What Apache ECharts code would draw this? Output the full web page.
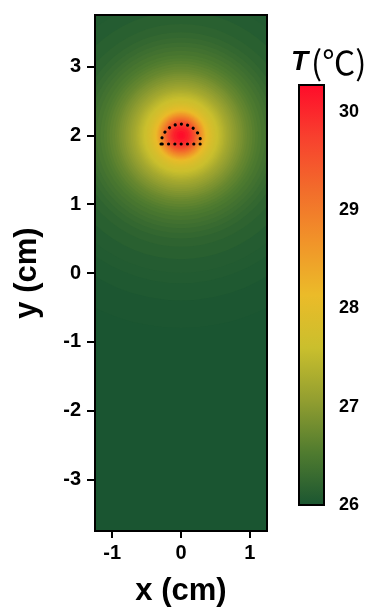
<!DOCTYPE html>
<html>
<head>
<meta charset="utf-8">
<script src="https://cdn.jsdelivr.net/npm/echarts@6/dist/echarts.min.js"></script>
<style>
  html, body { margin: 0; padding: 0; background: #fff; }
  #chart { width: 373px; height: 612px; }
</style>
</head>
<body>
<div id="chart"></div>
<script>
// Isotherms of the temperature field: level (°C) and radius (cm) around the warm spot
const isoLevels = [26.02, 26.05, 26.08, 26.1, 26.15, 26.2, 26.25, 26.3, 26.35, 26.4, 26.45,
  26.5, 26.55, 26.6, 26.65, 26.7, 26.75, 26.8, 26.85, 26.9, 26.95,
  27.0, 27.05, 27.1, 27.15, 27.2, 27.25, 27.3, 27.35, 27.4, 27.45,
  27.5, 27.55, 27.6, 27.65, 27.7, 27.75, 27.8, 27.85, 27.9, 27.95,
  28.0, 28.1, 28.2, 28.3, 28.4, 28.5, 28.6, 28.7, 28.8, 28.9,
  29.0, 29.1, 29.2, 29.3, 29.4, 29.5, 29.6, 29.7, 29.8, 29.9,
  30.0, 30.1, 30.2, 30.25];
const isoRadii = [2.8, 2.4, 2.15, 2.0, 1.8, 1.62, 1.5, 1.42, 1.35, 1.29, 1.23,
  1.17, 1.12, 1.08, 1.04, 1.0, 0.96, 0.93, 0.9, 0.87, 0.84,
  0.81, 0.78, 0.755, 0.73, 0.705, 0.68, 0.66, 0.64, 0.62, 0.60,
  0.58, 0.56, 0.54, 0.52, 0.50, 0.48, 0.46, 0.445, 0.43, 0.415,
  0.40, 0.38, 0.365, 0.35, 0.338, 0.325, 0.313, 0.30, 0.288, 0.276,
  0.264, 0.252, 0.24, 0.228, 0.216, 0.203, 0.19, 0.175, 0.16, 0.143,
  0.125, 0.1, 0.065, 0.035];
const spotCenter = [0, 2.0];          // cm
// Heater outline (half disc): centre of its flat side and radius, cm
const heaterCenter = [0, 1.875];
const heaterRadius = 0.29;

const xRange = [-1.25, 1.25];
const yRange = [-3.75, 3.75];
const tRange = [26, 30.27];
const xTicks = [-1, 0, 1];
const yTicks = [-3, -2, -1, 0, 1, 2, 3];
const tTicks = [26, 27, 28, 29, 30];

// colour map, stops evenly spaced over tRange
const cmap = ['#1a5531', '#4f7b2f', '#929e30', '#cabf2d', '#ebbb29', '#f19429', '#f26c2b', '#f8402e', '#ff0b2a'];

const FONT = 'Liberation Sans, Arial, sans-serif';
const isoData = isoLevels.map((t, i) => [spotCenter[0], spotCenter[1], isoRadii[i], t]);

const chart = echarts.init(document.getElementById('chart'));

const axisLine = { show: true, onZero: false, lineStyle: { color: '#000', width: 2 } };
const tickStyle = { color: '#000', width: 2 };
const labelStyle = { color: '#000', fontSize: 20, fontWeight: 'bold', fontFamily: FONT };
const nameStyle = { color: '#000', fontSize: 31, fontWeight: 'bold', fontFamily: FONT };

function clipTo(cs) {
  return { type: 'rect', shape: { x: cs.x, y: cs.y, width: cs.width, height: cs.height } };
}

chart.setOption({
  animation: false,
  backgroundColor: '#fff',
  grid: [
    { left: 95, top: 15, width: 172, height: 518, show: true, backgroundColor: cmap[0], borderWidth: 0 },
    { left: 299, top: 85, width: 25, height: 420, show: false }
  ],
  xAxis: [
    {
      gridIndex: 0, type: 'value', min: xRange[0], max: xRange[1], position: 'bottom',
      axisLine: axisLine,
      axisTick: { show: true, length: 7, lineStyle: tickStyle, customValues: xTicks },
      axisLabel: Object.assign({ margin: 12, customValues: xTicks }, labelStyle),
      splitLine: { show: false },
      name: 'x (cm)', nameLocation: 'middle', nameGap: 45, nameTextStyle: nameStyle
    },
    { gridIndex: 1, type: 'value', min: 0, max: 1, show: false }
  ],
  yAxis: [
    {
      gridIndex: 0, type: 'value', min: yRange[0], max: yRange[1], position: 'left',
      axisLine: axisLine,
      axisTick: { show: true, length: 8, lineStyle: tickStyle, customValues: yTicks },
      axisLabel: Object.assign({ margin: 14, customValues: yTicks }, labelStyle),
      splitLine: { show: false },
      name: 'y (cm)', nameLocation: 'middle', nameGap: 52, nameTextStyle: nameStyle
    },
    {
      gridIndex: 1, type: 'value', min: tRange[0], max: tRange[1], position: 'right',
      axisLine: { show: false },
      axisTick: { show: true, length: 6, lineStyle: tickStyle, customValues: tTicks },
      axisLabel: { margin: 15, customValues: tTicks, color: '#000', fontSize: 18, fontWeight: 'bold', fontFamily: FONT },
      splitLine: { show: false }
    }
  ],
  visualMap: {
    type: 'continuous', show: false, seriesIndex: 0, dimension: 3,
    min: tRange[0], max: tRange[1], inRange: { color: cmap }
  },
  graphic: [{
    type: 'text', left: 291, top: 46, z: 10,
    style: {
      text: '{t|T}{p|(℃)}',
      rich: {
        t: { fontSize: 28, fontWeight: 'bold', fontStyle: 'italic', fontFamily: FONT, fill: '#000' },
        p: { fontSize: 33, fontFamily: 'Noto Sans CJK SC', fill: '#000', padding: [0, 0, 0, 3] }
      }
    }
  }],
  series: [
    {
      // temperature field as nested isotherm discs, coolest first
      type: 'custom', xAxisIndex: 0, yAxisIndex: 0, data: isoData, silent: true,
      renderItem: function (params, api) {
        const c = api.coord([api.value(0), api.value(1)]);
        const r = api.size([api.value(2), 0])[0];
        return {
          type: 'circle',
          shape: { cx: c[0], cy: c[1], r: r },
          style: { fill: api.visual('color') },
          clipPath: clipTo(params.coordSys)
        };
      }
    },
    {
      // heater outline, dotted half disc
      type: 'custom', xAxisIndex: 0, yAxisIndex: 0, silent: true, z: 5,
      data: [[heaterCenter[0], heaterCenter[1], heaterRadius]],
      renderItem: function (params, api) {
        const c = api.coord([api.value(0), api.value(1)]);
        const r = api.size([api.value(2), 0])[0];
        return {
          type: 'sector',
          shape: { cx: c[0], cy: c[1], r0: 0, r: r, startAngle: Math.PI, endAngle: 2 * Math.PI, clockwise: true },
          style: { fill: 'none', stroke: '#000', lineWidth: 3.2, lineDash: [0.01, 6.3], lineCap: 'round' }
        };
      }
    },
    {
      // plot frame
      type: 'custom', xAxisIndex: 0, yAxisIndex: 0, silent: true, z: 6,
      data: [[xRange[0], yRange[0], xRange[1], yRange[1]]],
      renderItem: function (params, api) {
        const p0 = api.coord([api.value(0), api.value(1)]);
        const p1 = api.coord([api.value(2), api.value(3)]);
        return {
          type: 'rect',
          shape: { x: p0[0], y: p1[1], width: p1[0] - p0[0], height: p0[1] - p1[1] },
          style: { fill: 'none', stroke: '#000', lineWidth: 2 }
        };
      }
    },
    {
      // colour bar
      type: 'custom', xAxisIndex: 1, yAxisIndex: 1, silent: true,
      data: [[0, tRange[0], 1, tRange[1]]],
      renderItem: function (params, api) {
        const p0 = api.coord([api.value(0), api.value(1)]);
        const p1 = api.coord([api.value(2), api.value(3)]);
        const stops = cmap.map((col, i) => ({ offset: i / (cmap.length - 1), color: col }));
        return {
          type: 'rect',
          shape: { x: p0[0], y: p1[1], width: p1[0] - p0[0], height: p0[1] - p1[1] },
          style: { fill: new echarts.graphic.LinearGradient(0, 1, 0, 0, stops), stroke: '#000', lineWidth: 2 }
        };
      }
    }
  ]
});
</script>
</body>
</html>
